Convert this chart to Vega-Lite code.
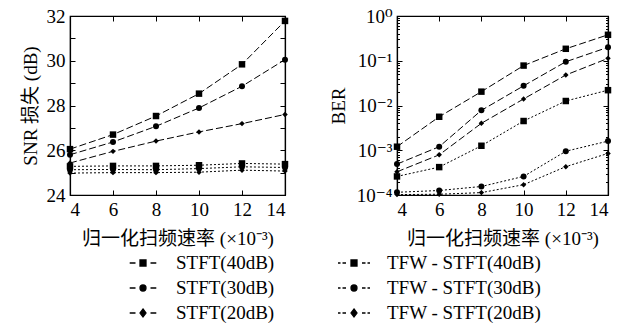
{
  "$schema": "https://vega.github.io/schema/vega-lite/v6.json",
  "padding": {"left": 20, "top": 6, "right": 0, "bottom": 0},
  "autosize": {"type": "pad"},
  "bounds": "flush",
  "spacing": 112,
  "config": {
    "font": "Liberation Serif",
    "view": {"stroke": "black", "strokeWidth": 1.2},
    "axis": {
      "grid": false, "domainColor": "black", "domainWidth": 1.2,
      "tickColor": "black", "tickSize": -5, "tickWidth": 1,
      "labelColor": "black", "labelFont": "Liberation Serif, DejaVu Serif", "labelFontSize": 19, "labelPadding": 10,
      "titleColor": "black", "titleFont": "Liberation Serif, Noto Sans CJK SC", "titleFontSize": 19, "titleFontWeight": "normal"
    },
    "legend": {"labelFont": "Liberation Serif", "labelFontSize": 19, "labelColor": "black"}
  },
  "datasets": {
    "snr": [
      {"series": "STFT(40dB)", "method": "STFT", "level": "40dB", "x": 4, "y": 26.05},
      {"series": "STFT(40dB)", "method": "STFT", "level": "40dB", "x": 6, "y": 26.7},
      {"series": "STFT(40dB)", "method": "STFT", "level": "40dB", "x": 8, "y": 27.53},
      {"series": "STFT(40dB)", "method": "STFT", "level": "40dB", "x": 10, "y": 28.53},
      {"series": "STFT(40dB)", "method": "STFT", "level": "40dB", "x": 12, "y": 29.84},
      {"series": "STFT(40dB)", "method": "STFT", "level": "40dB", "x": 14, "y": 31.78},
      {"series": "STFT(30dB)", "method": "STFT", "level": "30dB", "x": 4, "y": 25.8},
      {"series": "STFT(30dB)", "method": "STFT", "level": "30dB", "x": 6, "y": 26.37},
      {"series": "STFT(30dB)", "method": "STFT", "level": "30dB", "x": 8, "y": 27.07},
      {"series": "STFT(30dB)", "method": "STFT", "level": "30dB", "x": 10, "y": 27.89},
      {"series": "STFT(30dB)", "method": "STFT", "level": "30dB", "x": 12, "y": 28.86},
      {"series": "STFT(30dB)", "method": "STFT", "level": "30dB", "x": 14, "y": 30.05},
      {"series": "STFT(20dB)", "method": "STFT", "level": "20dB", "x": 4, "y": 25.43},
      {"series": "STFT(20dB)", "method": "STFT", "level": "20dB", "x": 6, "y": 25.95},
      {"series": "STFT(20dB)", "method": "STFT", "level": "20dB", "x": 8, "y": 26.41},
      {"series": "STFT(20dB)", "method": "STFT", "level": "20dB", "x": 10, "y": 26.82},
      {"series": "STFT(20dB)", "method": "STFT", "level": "20dB", "x": 12, "y": 27.19},
      {"series": "STFT(20dB)", "method": "STFT", "level": "20dB", "x": 14, "y": 27.6},
      {"series": "TFW - STFT(40dB)", "method": "TFW", "level": "40dB", "x": 4, "y": 25.28},
      {"series": "TFW - STFT(40dB)", "method": "TFW", "level": "40dB", "x": 6, "y": 25.3},
      {"series": "TFW - STFT(40dB)", "method": "TFW", "level": "40dB", "x": 8, "y": 25.3},
      {"series": "TFW - STFT(40dB)", "method": "TFW", "level": "40dB", "x": 10, "y": 25.33},
      {"series": "TFW - STFT(40dB)", "method": "TFW", "level": "40dB", "x": 12, "y": 25.41},
      {"series": "TFW - STFT(40dB)", "method": "TFW", "level": "40dB", "x": 14, "y": 25.38},
      {"series": "TFW - STFT(30dB)", "method": "TFW", "level": "30dB", "x": 4, "y": 25.13},
      {"series": "TFW - STFT(30dB)", "method": "TFW", "level": "30dB", "x": 6, "y": 25.14},
      {"series": "TFW - STFT(30dB)", "method": "TFW", "level": "30dB", "x": 8, "y": 25.13},
      {"series": "TFW - STFT(30dB)", "method": "TFW", "level": "30dB", "x": 10, "y": 25.18},
      {"series": "TFW - STFT(30dB)", "method": "TFW", "level": "30dB", "x": 12, "y": 25.26},
      {"series": "TFW - STFT(30dB)", "method": "TFW", "level": "30dB", "x": 14, "y": 25.23},
      {"series": "TFW - STFT(20dB)", "method": "TFW", "level": "20dB", "x": 4, "y": 24.98},
      {"series": "TFW - STFT(20dB)", "method": "TFW", "level": "20dB", "x": 6, "y": 25.0},
      {"series": "TFW - STFT(20dB)", "method": "TFW", "level": "20dB", "x": 8, "y": 25.0},
      {"series": "TFW - STFT(20dB)", "method": "TFW", "level": "20dB", "x": 10, "y": 25.02},
      {"series": "TFW - STFT(20dB)", "method": "TFW", "level": "20dB", "x": 12, "y": 25.11},
      {"series": "TFW - STFT(20dB)", "method": "TFW", "level": "20dB", "x": 14, "y": 25.07}
    ],
    "ber": [
      {"series": "STFT(40dB)", "method": "STFT", "level": "40dB", "x": 4, "y": 0.0012},
      {"series": "STFT(40dB)", "method": "STFT", "level": "40dB", "x": 6, "y": 0.0056},
      {"series": "STFT(40dB)", "method": "STFT", "level": "40dB", "x": 8, "y": 0.0204},
      {"series": "STFT(40dB)", "method": "STFT", "level": "40dB", "x": 10, "y": 0.078},
      {"series": "STFT(40dB)", "method": "STFT", "level": "40dB", "x": 12, "y": 0.185},
      {"series": "STFT(40dB)", "method": "STFT", "level": "40dB", "x": 14, "y": 0.38},
      {"series": "STFT(30dB)", "method": "STFT", "level": "30dB", "x": 4, "y": 0.00049},
      {"series": "STFT(30dB)", "method": "STFT", "level": "30dB", "x": 6, "y": 0.0012},
      {"series": "STFT(30dB)", "method": "STFT", "level": "30dB", "x": 8, "y": 0.0078},
      {"series": "STFT(30dB)", "method": "STFT", "level": "30dB", "x": 10, "y": 0.0275},
      {"series": "STFT(30dB)", "method": "STFT", "level": "30dB", "x": 12, "y": 0.095},
      {"series": "STFT(30dB)", "method": "STFT", "level": "30dB", "x": 14, "y": 0.2},
      {"series": "STFT(20dB)", "method": "STFT", "level": "20dB", "x": 4, "y": 0.00033},
      {"series": "STFT(20dB)", "method": "STFT", "level": "20dB", "x": 6, "y": 0.00079},
      {"series": "STFT(20dB)", "method": "STFT", "level": "20dB", "x": 8, "y": 0.004},
      {"series": "STFT(20dB)", "method": "STFT", "level": "20dB", "x": 10, "y": 0.014},
      {"series": "STFT(20dB)", "method": "STFT", "level": "20dB", "x": 12, "y": 0.048},
      {"series": "STFT(20dB)", "method": "STFT", "level": "20dB", "x": 14, "y": 0.113},
      {"series": "TFW - STFT(40dB)", "method": "TFW", "level": "40dB", "x": 4, "y": 0.00026},
      {"series": "TFW - STFT(40dB)", "method": "TFW", "level": "40dB", "x": 6, "y": 0.00042},
      {"series": "TFW - STFT(40dB)", "method": "TFW", "level": "40dB", "x": 8, "y": 0.00126},
      {"series": "TFW - STFT(40dB)", "method": "TFW", "level": "40dB", "x": 10, "y": 0.0045},
      {"series": "TFW - STFT(40dB)", "method": "TFW", "level": "40dB", "x": 12, "y": 0.0126},
      {"series": "TFW - STFT(40dB)", "method": "TFW", "level": "40dB", "x": 14, "y": 0.022},
      {"series": "TFW - STFT(30dB)", "method": "TFW", "level": "30dB", "x": 4, "y": 0.000115},
      {"series": "TFW - STFT(30dB)", "method": "TFW", "level": "30dB", "x": 6, "y": 0.000126},
      {"series": "TFW - STFT(30dB)", "method": "TFW", "level": "30dB", "x": 8, "y": 0.000155},
      {"series": "TFW - STFT(30dB)", "method": "TFW", "level": "30dB", "x": 10, "y": 0.00026},
      {"series": "TFW - STFT(30dB)", "method": "TFW", "level": "30dB", "x": 12, "y": 0.00095},
      {"series": "TFW - STFT(30dB)", "method": "TFW", "level": "30dB", "x": 14, "y": 0.0016},
      {"series": "TFW - STFT(20dB)", "method": "TFW", "level": "20dB", "x": 4, "y": 0.000102},
      {"series": "TFW - STFT(20dB)", "method": "TFW", "level": "20dB", "x": 6, "y": 0.000104},
      {"series": "TFW - STFT(20dB)", "method": "TFW", "level": "20dB", "x": 8, "y": 0.000113},
      {"series": "TFW - STFT(20dB)", "method": "TFW", "level": "20dB", "x": 10, "y": 0.00017},
      {"series": "TFW - STFT(20dB)", "method": "TFW", "level": "20dB", "x": 12, "y": 0.00043},
      {"series": "TFW - STFT(20dB)", "method": "TFW", "level": "20dB", "x": 14, "y": 0.00085}
    ]
  },
  "hconcat": [
    {
      "width": 215, "height": 179,
      "data": {"name": "snr"},
      "layer": [
        {
          "mark": {"type": "line", "color": "black", "strokeWidth": 1},
          "encoding": {
            "x": {"field": "x", "type": "quantitative", "scale": {"domain": [4, 14], "nice": false},
                  "axis": {"orient": "bottom", "values": [4, 6, 8, 10, 12, 14], "title": "归一化扫频速率 (×10⁻³)", "titlePadding": 10}},
            "y": {"field": "y", "type": "quantitative", "scale": {"domain": [24, 32], "nice": false, "zero": false},
                  "axis": {"orient": "left", "values": [24, 25, 26, 27, 28, 29, 30, 31, 32], "labelExpr": "datum.value % 2 == 0 ? datum.label : ''", "title": "SNR 损失 (dB)", "titlePadding": 6}},
            "detail": {"field": "series"},
            "strokeDash": {"field": "method", "type": "nominal", "scale": {"domain": ["STFT", "TFW"], "range": [[7, 3], [2, 2]]}, "legend": null}
          }
        },
        {
          "mark": {"type": "point", "filled": true, "color": "black", "opacity": 1},
          "encoding": {
            "x": {"field": "x", "type": "quantitative", "axis": null},
            "y": {"field": "y", "type": "quantitative", "axis": null},
            "shape": {"field": "level", "type": "nominal", "scale": {"domain": ["40dB", "30dB", "20dB"], "range": ["square", "circle", "diamond"]}, "legend": null},
            "size": {"field": "level", "type": "nominal", "scale": {"domain": ["40dB", "30dB", "20dB"], "range": [42, 30, 45]}, "legend": null}
          }
        },
        {
          "transform": [{"filter": "false"}],
          "mark": {"type": "point", "filled": false, "color": "black", "fill": "black", "stroke": "black", "strokeWidth": 1.3},
          "encoding": {
            "x": {"field": "x", "type": "quantitative", "axis": {"orient": "top", "values": [4, 6, 8, 10, 12, 14], "labels": false, "title": null}},
            "y": {"field": "y", "type": "quantitative", "axis": {"orient": "right", "values": [24, 25, 26, 27, 28, 29, 30, 31, 32], "labels": false, "title": null}},
            "shape": {
              "field": "series", "type": "nominal",
              "scale": {
                "domain": ["STFT(40dB)", "STFT(30dB)", "STFT(20dB)", "TFW - STFT(40dB)", "TFW - STFT(30dB)", "TFW - STFT(20dB)"],
                "range": [
                  "M-1.33,0H-0.75M0.75,0H1.33M-0.3,-0.3H0.3V0.3H-0.3Z",
                  "M-1.33,0H-0.75M0.75,0H1.33M0.3,0A0.3,0.3,0,1,1,-0.3,0A0.3,0.3,0,1,1,0.3,0Z",
                  "M-1.33,0H-0.75M0.75,0H1.33M0,-0.4L0.3,0L0,0.4L-0.3,0Z",
                  "M-1.6,0H-1.35M-1.15,0H-0.8M0.8,0H1.15M1.35,0H1.6M-0.3,-0.3H0.3V0.3H-0.3Z",
                  "M-1.6,0H-1.35M-1.15,0H-0.8M0.8,0H1.15M1.35,0H1.6M0.3,0A0.3,0.3,0,1,1,-0.3,0A0.3,0.3,0,1,1,0.3,0Z",
                  "M-1.6,0H-1.35M-1.15,0H-0.8M0.8,0H1.15M1.35,0H1.6M0,-0.4L0.3,0L0,0.4L-0.3,0Z"
                ]
              },
              "legend": {
                "orient": "none", "legendX": 62, "legendY": 236, "columns": 2, "title": null, "padding": 0,
                "symbolSize": 400, "symbolStrokeWidth": 1.3, "symbolOpacity": 1,
                "labelFont": "Liberation Serif", "labelFontSize": 19, "labelColor": "black", "labelOffset": 22, "labelLimit": 0,
                "rowPadding": 4, "columnPadding": 60,
                "encode": {
                  "symbols": {"stroke": {"value": "black"}, "strokeWidth": {"value": 1.3}, "fill": {"value": "black"}, "opacity": {"value": 1}},
                  "labels": {"font": {"value": "Liberation Serif"}, "fontSize": {"value": 19}}
                }
              }
            }
          }
        }
      ],
      "resolve": {"axis": {"x": "independent", "y": "independent"}, "scale": {"shape": "independent", "size": "independent"}}
    },
    {
      "width": 211, "height": 179,
      "data": {"name": "ber"},
      "layer": [
        {
          "mark": {"type": "line", "color": "black", "strokeWidth": 1},
          "encoding": {
            "x": {"field": "x", "type": "quantitative", "scale": {"domain": [4, 14], "nice": false},
                  "axis": {"orient": "bottom", "values": [4, 6, 8, 10, 12, 14], "title": "归一化扫频速率 (×10⁻³)", "titlePadding": 10}},
            "y": {"field": "y", "type": "quantitative", "scale": {"type": "log", "domain": [0.0001, 1], "nice": false},
                  "axis": {"orient": "left", "values": [0.0001, 0.001, 0.01, 0.1, 1], "labelExpr": "'10' + ['⁻⁴','⁻³','⁻²','⁻¹','⁰'][round(log(datum.value)/LN10) + 4]", "title": "BER", "titlePadding": 8}},
            "detail": {"field": "series"},
            "strokeDash": {"field": "method", "type": "nominal", "scale": {"domain": ["STFT", "TFW"], "range": [[7, 3], [2, 2]]}, "legend": null}
          }
        },
        {
          "mark": {"type": "point", "filled": true, "color": "black", "opacity": 1},
          "encoding": {
            "x": {"field": "x", "type": "quantitative", "axis": null},
            "y": {"field": "y", "type": "quantitative", "axis": null},
            "shape": {"field": "level", "type": "nominal", "scale": {"domain": ["40dB", "30dB", "20dB"], "range": ["square", "circle", "diamond"]}, "legend": null},
            "size": {"field": "level", "type": "nominal", "scale": {"domain": ["40dB", "30dB", "20dB"], "range": [42, 30, 45]}, "legend": null}
          }
        },
        {
          "transform": [{"filter": "false"}],
          "mark": {"type": "point", "opacity": 0},
          "encoding": {
            "x": {"field": "x", "type": "quantitative", "axis": {"orient": "top", "values": [4, 6, 8, 10, 12, 14], "labels": false, "title": null}},
            "y": {"field": "y", "type": "quantitative", "axis": {"orient": "right", "values": [0.0001, 0.001, 0.01, 0.1, 1], "labels": false, "title": null}}
          }
        },
        {
          "transform": [{"filter": "false"}],
          "mark": {"type": "point", "opacity": 0},
          "encoding": {
            "x": {"field": "x", "type": "quantitative", "axis": null},
            "y": {"field": "y", "type": "quantitative", "axis": {"orient": "left", "values": [0.0002, 0.0003, 0.0004, 0.0005, 0.0006, 0.0007, 0.0008, 0.0009, 0.002, 0.003, 0.004, 0.005, 0.006, 0.007, 0.008, 0.009, 0.02, 0.03, 0.04, 0.05, 0.06, 0.07, 0.08, 0.09, 0.2, 0.3, 0.4, 0.5, 0.6, 0.7, 0.8, 0.9], "labels": false, "title": null, "domain": false, "tickSize": -2.5}}
          }
        },
        {
          "transform": [{"filter": "false"}],
          "mark": {"type": "point", "opacity": 0},
          "encoding": {
            "x": {"field": "x", "type": "quantitative", "axis": null},
            "y": {"field": "y", "type": "quantitative", "axis": {"orient": "right", "values": [0.0002, 0.0003, 0.0004, 0.0005, 0.0006, 0.0007, 0.0008, 0.0009, 0.002, 0.003, 0.004, 0.005, 0.006, 0.007, 0.008, 0.009, 0.02, 0.03, 0.04, 0.05, 0.06, 0.07, 0.08, 0.09, 0.2, 0.3, 0.4, 0.5, 0.6, 0.7, 0.8, 0.9], "labels": false, "title": null, "domain": false, "tickSize": -2.5}}
          }
        }
      ],
      "resolve": {"axis": {"x": "independent", "y": "independent"}}
    }
  ]
}
